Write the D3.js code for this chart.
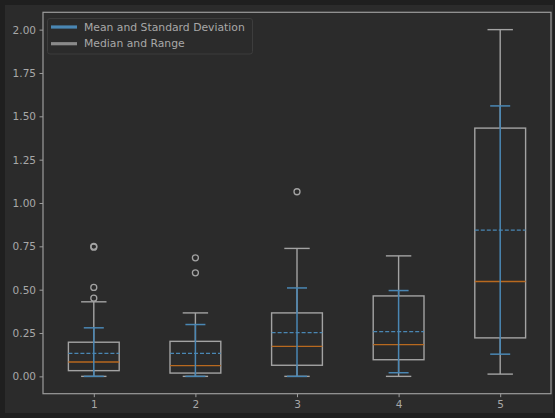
<!DOCTYPE html>
<html>
<head>
<meta charset="utf-8">
<script src="https://cdn.jsdelivr.net/npm/d3@7"></script>
<style>
  html, body { margin: 0; padding: 0; background: #1f1f1f; }
  svg { display: block; font-family: "DejaVu Sans", sans-serif; }
</style>
</head>
<body>
<svg id="chart" width="555" height="418"></svg>
<script>
// Per-group summary statistics
const categories = ["1", "2", "3", "4", "5"];
const q1 = [0.033, 0.019, 0.064, 0.096, 0.222];
const medians = [0.083, 0.062, 0.173, 0.183, 0.547];
const q3 = [0.197, 0.202, 0.366, 0.464, 1.432];
const whiskerLow = [0.0, 0.0, 0.0, 0.0, 0.013];
const whiskerHigh = [0.43, 0.366, 0.738, 0.695, 2.0];
const means = [0.133, 0.133, 0.252, 0.258, 0.844];
const stds = [0.147, 0.166, 0.258, 0.237, 0.716];
const outliers = [[0.451, 0.513, 0.745, 0.75], [0.597, 0.684], [1.065], [], []];
const yTicks = [0, 0.25, 0.5, 0.75, 1.0, 1.25, 1.5, 1.75, 2.0];
const legendLabels = ["Mean and Standard Deviation", "Median and Range"];

const svg = d3.select("#chart");
const W = 555, H = 418;
const plot = { left: 43, right: 551, top: 12.3, bottom: 393.7 };

const colBg = "#2b2b2b";
const colEdge = "#a3a3a3";
const colSpine = "#9c9c9c";
const colText = "#a8a8a8";
const colBlue = "#4a87b4";
const colOrange = "#b8691f";

// figure background
svg.append("rect").attr("x", 5).attr("y", 5).attr("width", 548).attr("height", 408).attr("fill", colBg);

const x = d3.scaleLinear().domain([0.5, 5.5]).range([plot.left, plot.right]);
const y = d3.scaleLinear().domain([-0.1, 2.1]).range([plot.bottom, plot.top]);

const boxW = 0.5;     // in data units
const capW = 0.25;    // whisker cap width, data units
const errCap = 10;    // half-width of error bar cap, px

const g = svg.append("g");

categories.forEach((c, i) => {
  const pos = i + 1;
  const cx = x(pos);
  const xl = x(pos - boxW / 2), xr = x(pos + boxW / 2);
  const cl = x(pos - capW / 2), cr = x(pos + capW / 2);

  // whiskers
  g.append("line").attr("x1", cx).attr("x2", cx)
    .attr("y1", y(q1[i])).attr("y2", y(whiskerLow[i]))
    .attr("stroke", colEdge).attr("stroke-width", 1.4);
  g.append("line").attr("x1", cx).attr("x2", cx)
    .attr("y1", y(q3[i])).attr("y2", y(whiskerHigh[i]))
    .attr("stroke", colEdge).attr("stroke-width", 1.4);
  // caps
  [whiskerLow[i], whiskerHigh[i]].forEach(v => {
    g.append("line").attr("x1", cl).attr("x2", cr)
      .attr("y1", y(v)).attr("y2", y(v))
      .attr("stroke", colEdge).attr("stroke-width", 1.4);
  });
  // box
  g.append("rect").attr("x", xl).attr("y", y(q3[i]))
    .attr("width", xr - xl).attr("height", y(q1[i]) - y(q3[i]))
    .attr("fill", "none").attr("stroke", colEdge).attr("stroke-width", 1.4);
  // median
  g.append("line").attr("x1", xl).attr("x2", xr)
    .attr("y1", y(medians[i])).attr("y2", y(medians[i]))
    .attr("stroke", colOrange).attr("stroke-width", 1.4);
  // mean
  g.append("line").attr("x1", xl).attr("x2", xr)
    .attr("y1", y(means[i])).attr("y2", y(means[i]))
    .attr("stroke", colBlue).attr("stroke-width", 1.3)
    .attr("stroke-dasharray", "4,2");
  // outliers
  outliers[i].forEach(v => {
    g.append("circle").attr("cx", cx).attr("cy", y(v)).attr("r", 3)
      .attr("fill", "none").attr("stroke", colEdge).attr("stroke-width", 1.3);
  });
  // mean +/- standard deviation
  const lo = Math.max(0, means[i] - stds[i]);
  const hi = means[i] + stds[i];
  g.append("line").attr("x1", cx).attr("x2", cx)
    .attr("y1", y(lo)).attr("y2", y(hi))
    .attr("stroke", colBlue).attr("stroke-width", 1.5);
  [lo, hi].forEach(v => {
    g.append("line").attr("x1", cx - errCap).attr("x2", cx + errCap)
      .attr("y1", y(v)).attr("y2", y(v))
      .attr("stroke", colBlue).attr("stroke-width", 1.5);
  });
});

// axes
const yAxis = d3.axisLeft(y).tickValues(yTicks).tickFormat(d3.format(".2f")).tickSize(3.5).tickPadding(3.5);
const xAxis = d3.axisBottom(x).tickValues(d3.range(1, categories.length + 1))
  .tickFormat((d, i) => categories[i]).tickSize(3.5).tickPadding(3.5);

const ya = svg.append("g").attr("transform", `translate(${plot.left},0)`).call(yAxis);
const xa = svg.append("g").attr("transform", `translate(0,${plot.bottom})`).call(xAxis);
[ya, xa].forEach(a => {
  a.select(".domain").remove();
  a.selectAll(".tick line").attr("stroke", colSpine).attr("stroke-width", 1);
  a.selectAll(".tick text").attr("fill", colText).attr("font-size", 10.5)
    .attr("font-family", "DejaVu Sans, sans-serif");
});

// spines
svg.append("rect").attr("x", plot.left).attr("y", plot.top)
  .attr("width", plot.right - plot.left).attr("height", plot.bottom - plot.top)
  .attr("fill", "none").attr("stroke", colSpine).attr("stroke-width", 1.2);

// legend
const lg = svg.append("g");
lg.append("rect").attr("x", 47.5).attr("y", 18.5).attr("width", 205).attr("height", 35.5)
  .attr("rx", 2.5).attr("fill", colBg).attr("stroke", "#3d3d3d").attr("stroke-width", 1);
const legendColors = [colBlue, "#8a8a8a"];
legendLabels.forEach((t, i) => {
  const ly = 27 + i * 16.7;
  lg.append("line").attr("x1", 51).attr("x2", 77).attr("y1", ly).attr("y2", ly)
    .attr("stroke", legendColors[i]).attr("stroke-width", 3.2);
  lg.append("text").attr("x", 84).attr("y", ly).attr("dy", "0.35em")
    .attr("fill", colText).attr("font-size", 10.8).text(t);
});
</script>
</body>
</html>
